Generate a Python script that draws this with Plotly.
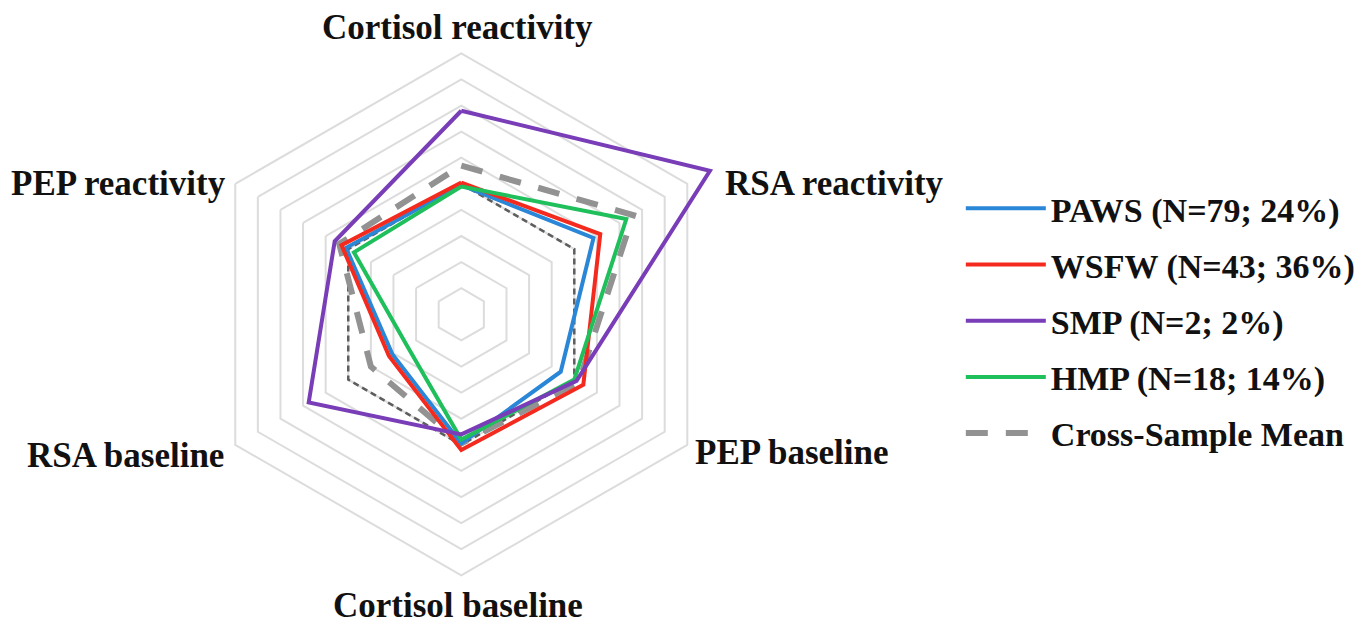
import plotly.graph_objects as go

categories = ["Cortisol reactivity", "RSA reactivity", "PEP baseline",
              "Cortisol baseline", "RSA baseline", "PEP reactivity"]

paws = [-0.01, 0.17, -0.12, -0.01, -0.39, 0.02]
wsfw = [0.01, 0.23, 0.08, 0.04, -0.36, 0.06]
smp = [0.56, 1.20, 0.02, -0.08, 0.35, 0.12]
hmp = [-0.02, 0.46, 0.00, -0.04, -0.52, -0.05]
cross_mean = [0.14, 0.52, 0.04, -0.01, -0.20, 0.08]
zero_ref = [0, 0, 0, 0, 0, 0]

series_names = ["PAWS (N=79; 24%)", "WSFW (N=43; 36%)", "SMP (N=2; 2%)",
                "HMP (N=18; 14%)", "Cross-Sample Mean"]

ring_vals = [-0.8, -0.6, -0.4, -0.2, 0.0, 0.2, 0.4, 0.6, 0.8, 1.0]

FONT = "Liberation Serif"


def closed(v):
    return list(v) + [v[0]]


theta = closed(categories)

fig = go.Figure()

# zero reference (thin dashed)
fig.add_trace(go.Scatterpolar(r=closed(zero_ref), theta=theta, mode="lines",
                              line=dict(color="#5e5e5e", width=2.5, dash="6px,4px"),
                              showlegend=False, hoverinfo="skip"))

styles = [
    (cross_mean, series_names[4], dict(color="#929292", width=6, dash="22px,18px"), 5),
    (paws, series_names[0], dict(color="#2a86d6", width=4), 1),
    (wsfw, series_names[1], dict(color="#f52a1e", width=4), 2),
    (hmp, series_names[3], dict(color="#1fbf5c", width=4), 4),
    (smp, series_names[2], dict(color="#7a3db8", width=4), 3),
]

for vals, name, line, rank in styles:
    fig.add_trace(go.Scatterpolar(r=closed(vals), theta=theta, mode="lines",
                                  name=name, line=line, legendrank=rank,
                                  legendgroup=name))

fig.update_layout(
    width=1369, height=629,
    margin=dict(l=0, r=0, t=0, b=0),
    paper_bgcolor="white",
    plot_bgcolor="white",
    polar=dict(
        domain=dict(x=[0.1166, 0.5456], y=[0.0462, 0.9798]),
        bgcolor="white",
        gridshape="linear",
        radialaxis=dict(range=[-1.0, 1.25], tickmode="array", tickvals=ring_vals,
                        showticklabels=False, showline=False, ticks="",
                        showgrid=True, gridcolor="#dcdcdc", gridwidth=1.6),
        angularaxis=dict(rotation=90, direction="clockwise", showticklabels=False,
                         showline=False, showgrid=False, ticks="",
                         categoryorder="array", categoryarray=categories),
    ),
    legend=dict(x=0.696, y=0.727, xanchor="left", yanchor="top",
                font=dict(family=FONT, size=34, color="#111111", weight="bold"),
                tracegroupgap=9, itemwidth=80, bgcolor="rgba(0,0,0,0)"),
    showlegend=True,
)

label_pos = [
    (450, 20, "center"),
    (715, 175, "left"),
    (685, 444, "left"),
    (450, 597, "center"),
    (218, 448, "right"),
    (220, 175, "right"),
]
for cat, (px, py, anchor) in zip(categories, label_pos):
    fig.add_annotation(x=px / 1369, y=1 - py / 629, xref="paper", yref="paper",
                       text=cat, showarrow=False, xanchor=anchor, yanchor="middle",
                       font=dict(family=FONT, size=35, color="#111111", weight="bold"))

fig.write_html("out.html")
